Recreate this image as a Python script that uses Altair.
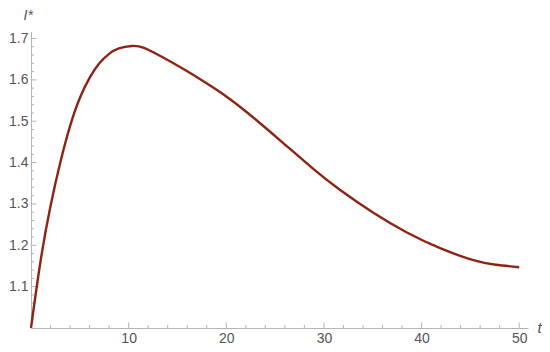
import altair as alt
import pandas as pd

# curve values
t_vals = [0, 1, 2, 3, 4, 5, 6, 7, 8, 9, 10.3, 11.5, 13.3, 15.7, 18.1, 20,
          22.2, 25.6, 29.0, 31.7, 35.1, 38.5, 41.9, 45.3, 47.6, 50]
i_vals = [1.0, 1.165, 1.295, 1.40, 1.488, 1.556, 1.605, 1.640, 1.663, 1.676, 1.682, 1.678,
          1.657, 1.625, 1.590, 1.560, 1.520, 1.452, 1.383, 1.333, 1.278, 1.231, 1.193, 1.164,
          1.153, 1.147]

x_major = [10, 20, 30, 40, 50]
x_minor = [2, 4, 6, 8, 12, 14, 16, 18, 22, 24, 26, 28, 32, 34, 36, 38, 42, 44, 46, 48]
y_major = [1.1, 1.2, 1.3, 1.4, 1.5, 1.6, 1.7]
y_minor = [1.02, 1.04, 1.06, 1.08, 1.12, 1.14, 1.16, 1.18, 1.22, 1.24, 1.26, 1.28,
           1.32, 1.34, 1.36, 1.38, 1.42, 1.44, 1.46, 1.48, 1.52, 1.54, 1.56, 1.58,
           1.62, 1.64, 1.66, 1.68]

W = 497
H = 296.3
AX = "#b4b4b4"
LBL = "#555555"
FONT = "Liberation Sans"

xs = alt.Scale(domain=[0, 50.9], nice=False, zero=False)
ys = alt.Scale(domain=[1.0, 1.7165], nice=False, zero=False)

x_axis = alt.Axis(
    values=x_major, ticks=False, grid=False, domainColor=AX, domainWidth=1,
    labelFontSize=14, labelColor=LBL, labelFont=FONT, labelPadding=3,
    title="t", titleFont=FONT, titleFontStyle="italic", titleFontWeight="normal",
    titleFontSize=15, titleColor=LBL, titleX=506, titleY=4,
    titleAlign="left", titleBaseline="alphabetic", titleAnchor="start")
y_axis = alt.Axis(
    values=y_major, format=".1f", ticks=False, grid=False, domainColor=AX, domainWidth=1,
    labelFontSize=14, labelColor=LBL, labelFont=FONT, labelPadding=3,
    title="I*", titleFont=FONT, titleFontStyle="italic", titleFontWeight="normal",
    titleFontSize=14, titleColor=LBL, titleAngle=0, titleX=-8, titleY=-12,
    titleAlign="left", titleBaseline="alphabetic", titleAnchor="start")

curve = pd.DataFrame({"t": t_vals, "I": i_vals})

line = alt.Chart(curve).mark_line(color="#8f2313", strokeWidth=2.4, interpolate="natural").encode(
    x=alt.X("t:Q", scale=xs, axis=x_axis),
    y=alt.Y("I:Q", scale=ys, axis=y_axis),
)

def xticks(vals, ln):
    return alt.Chart(pd.DataFrame({"t": vals})).mark_rule(color=AX, strokeWidth=1).encode(
        x=alt.X("t:Q", scale=xs, axis=x_axis), y=alt.value(H), y2=alt.value(H - ln))

def yticks(vals, ln):
    return alt.Chart(pd.DataFrame({"I": vals})).mark_rule(color=AX, strokeWidth=1).encode(
        y=alt.Y("I:Q", scale=ys, axis=y_axis), x=alt.value(0), x2=alt.value(ln))

chart = alt.layer(
    xticks(x_minor, 3), xticks(x_major, 5.5), yticks(y_minor, 3), yticks(y_major, 5.5), line
).properties(
    width=W, height=H,
    autosize=alt.AutoSizeParams(type="none"),
    padding={"left": 23, "top": 23.7, "right": 14, "bottom": 16},
    background="white",
).configure_view(stroke=None)

chart.save("out.html", embed_options={"renderer": "svg", "actions": False})
